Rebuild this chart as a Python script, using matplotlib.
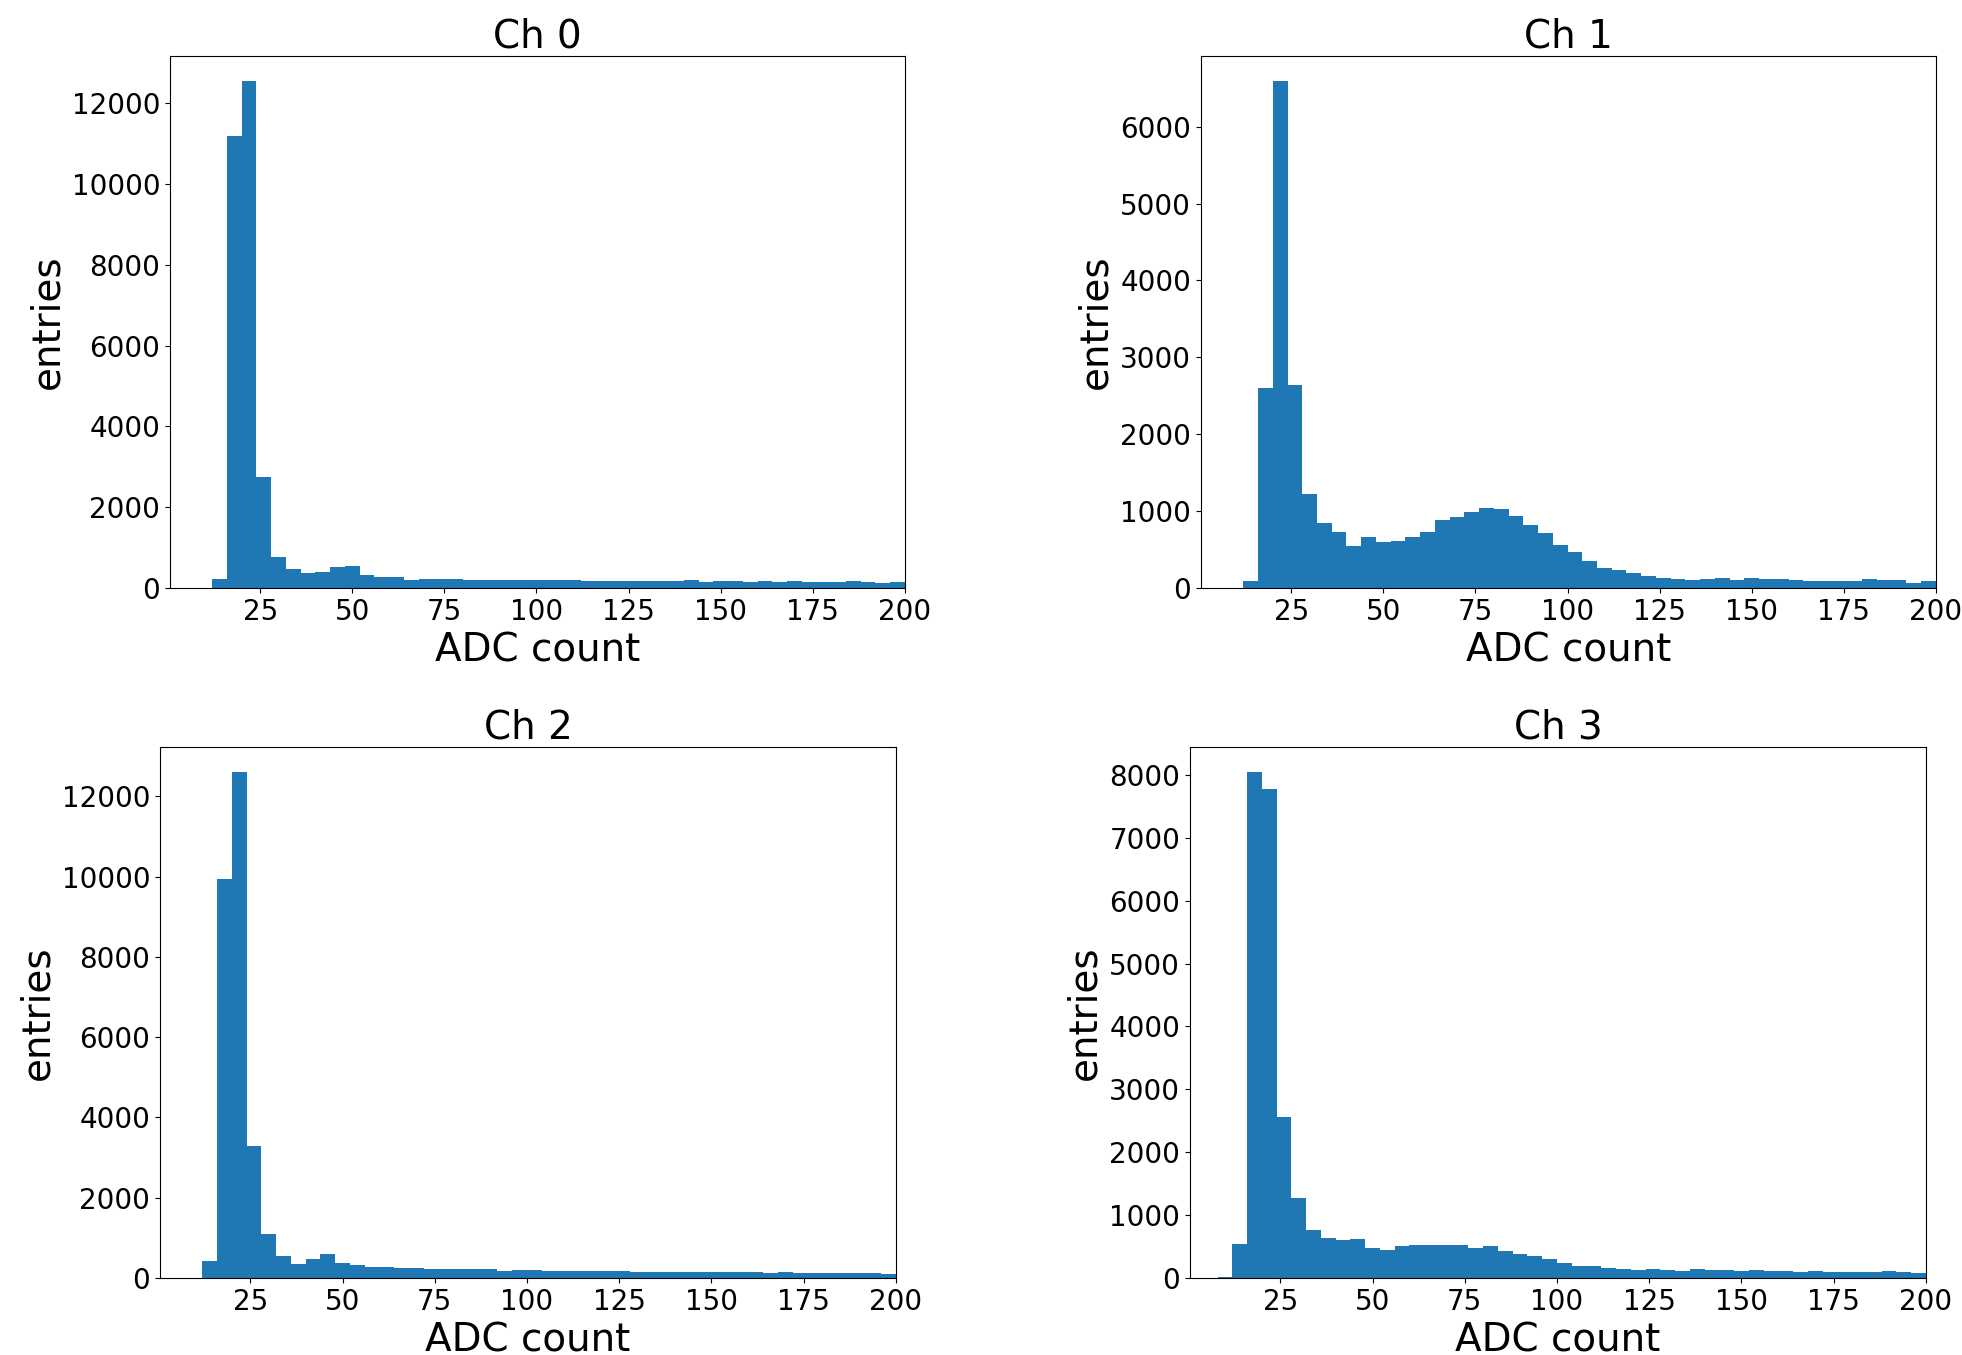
import numpy as np
import matplotlib
matplotlib.use('Agg')
import matplotlib.pyplot as plt

# bin edges of the ADC histograms (width 4, 8 .. 200)
bin_edges = np.arange(8, 204, 4)

ch0 = [0, 225, 11190, 12550, 2740, 760, 470, 375, 400, 520, 545, 325,
       275, 275, 200, 225, 225, 225, 205, 205, 185, 205, 205, 185,
       205, 205, 160, 180, 165, 165, 165, 165, 165, 185, 145, 165,
       165, 145, 160, 145, 160, 145, 145, 145, 160, 145, 120, 135]
ch1 = [0, 90, 2595, 6590, 2645, 1225, 850, 730, 545, 660, 595, 610,
       660, 730, 885, 925, 990, 1045, 1030, 940, 820, 715, 555, 465,
       350, 260, 230, 190, 160, 135, 115, 100, 115, 135, 100, 125,
       115, 115, 100, 90, 90, 90, 90, 110, 100, 100, 70, 90]
ch2 = [0, 420, 9950, 12600, 3290, 1090, 545, 360, 465, 610, 370, 325,
       275, 275, 245, 245, 225, 225, 225, 225, 225, 170, 200, 195,
       170, 170, 170, 170, 170, 170, 145, 145, 145, 145, 145, 145,
       145, 145, 145, 120, 150, 125, 125, 125, 125, 125, 125, 95]
ch3 = [20, 540, 8040, 7770, 2560, 1280, 760, 635, 605, 620, 475, 445,
       510, 525, 525, 525, 525, 475, 510, 430, 380, 350, 300, 240,
       190, 190, 160, 145, 125, 145, 125, 110, 145, 125, 125, 115,
       125, 115, 115, 100, 115, 100, 100, 100, 100, 115, 100, 80]

channels = ['Ch 0', 'Ch 1', 'Ch 2', 'Ch 3']
counts = [ch0, ch1, ch2, ch3]

fig = plt.figure(figsize=(19.62, 13.55), dpi=100)
positions = [[0.0866, 0.5661, 0.3746, 0.3926],
             [0.6121, 0.5661, 0.3746, 0.3926],
             [0.0815, 0.0568, 0.3751, 0.3919],
             [0.6065, 0.0568, 0.3751, 0.3919]]

for name, c, pos in zip(channels, counts, positions):
    ax = fig.add_axes(pos)
    ax.hist(bin_edges[:-1], bins=bin_edges, weights=c, color='#1f77b4')
    ax.set_xlim(0.5, 200)
    ax.set_title(name, fontsize=28)
    ax.set_xlabel('ADC count', fontsize=28)
    ax.set_ylabel('entries', fontsize=28)
    ax.tick_params(labelsize=20)

plt.savefig('out.png', dpi=100)
